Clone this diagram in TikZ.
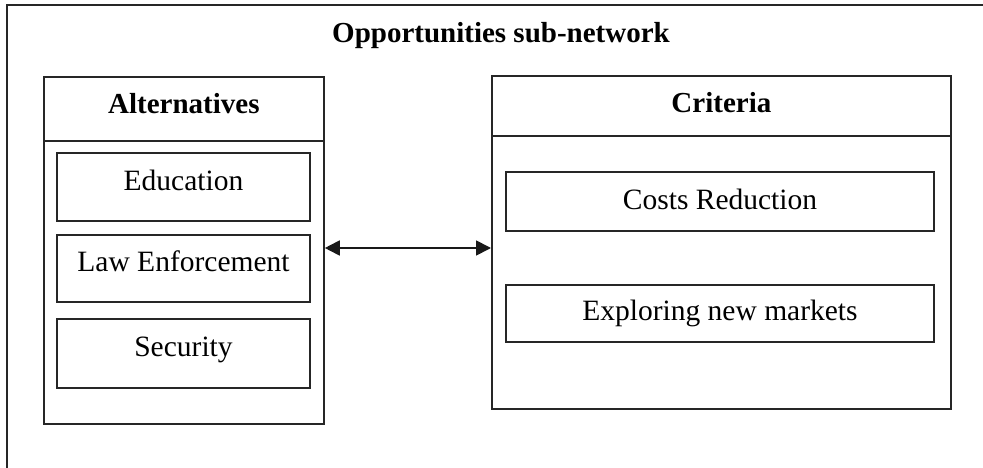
\documentclass[tikz,border=0pt]{standalone}
\usepackage{fontspec}
\setmainfont{Liberation Serif}
\usetikzlibrary{arrows.meta}

\tikzset{
  frameline/.style={line width=1.8pt, draw=black!85},
  panel/.style={frameline, rectangle, inner sep=0pt, anchor=north west},
  headbox/.style={frameline, rectangle, inner sep=0pt, anchor=north west,
    font=\fontsize{29}{34}\selectfont\bfseries, text depth=0pt},
  itembox/.style={frameline, rectangle, inner sep=0pt,
    font=\fontsize{29.5}{35}\selectfont, text depth=0pt},
  titletext/.style={font=\fontsize{29}{34}\selectfont\bfseries, inner sep=0pt, anchor=base},
  link/.style={line width=1.8pt, draw=black!90, {Triangle[length=15pt,width=15pt]}-{Triangle[length=15pt,width=15pt]}}
}

\begin{document}
\begin{tikzpicture}[x=1pt, y=-1pt]
  \useasboundingbox (0,0) rectangle (983,468);

  % outer frame: only the top and left edges fall inside the page
  \draw[frameline] (983,5) -- (7,5) -- (7,470);

  \node[titletext] (title) at (501,43) {Opportunities sub-network};

  % Alternatives panel
  \node[panel, minimum width=280pt, minimum height=347pt] (alt) at (43,76) {};
  \node[headbox, minimum width=280pt, minimum height=64pt, text height=9pt] (altHead) at (43,76) {Alternatives};
  \node[itembox, minimum width=253pt, minimum height=68pt, text height=6pt] (edu) at (183.5,187) {Education};
  \node[itembox, minimum width=253pt, minimum height=67pt, text height=5pt] (law) at (183.5,268.5) {Law Enforcement};
  \node[itembox, minimum width=253pt, minimum height=69pt, text height=6pt] (sec) at (183.5,353.5) {Security};

  % Criteria panel
  \node[panel, minimum width=459pt, minimum height=333pt] (crit) at (491,75) {};
  \node[headbox, minimum width=459pt, minimum height=60pt, text height=14pt] (critHead) at (491,75) {Criteria};
  \node[itembox, minimum width=428pt, minimum height=59pt, text height=15pt] (cost) at (720,201.5) {Costs Reduction};
  \node[itembox, minimum width=428pt, minimum height=57pt, text height=13pt] (explore) at (720,313.5) {Exploring new markets};

  % two-way link between the panels
  \coordinate (linkY) at (0,248);
  \draw[link] (alt.east |- linkY) -- (crit.west |- linkY);
\end{tikzpicture}
\end{document}
